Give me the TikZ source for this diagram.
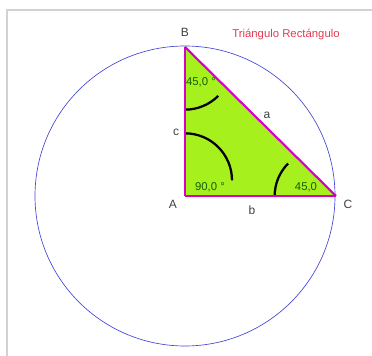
\documentclass[tikz,border=0pt]{standalone}
\usepackage{fontspec}
\setmainfont{Liberation Sans}
\definecolor{lima}{RGB}{166,240,30}
\definecolor{lado}{RGB}{214,0,200}
\definecolor{circ}{RGB}{70,70,215}
\definecolor{angtxt}{RGB}{20,95,0}
\definecolor{marco}{RGB}{210,210,210}
\definecolor{titulo}{RGB}{225,60,80}
\begin{document}
\begin{tikzpicture}[x=0.75pt,y=0.75pt,
  side/.style={lado, line width=1.6pt},
  angarc/.style={black, line width=1.7pt},
  vlabel/.style={font=\fontsize{9}{10}\selectfont, text=black!75},
  anglabel/.style={font=\fontsize{8.5}{10}\selectfont, text=angtxt}]
\useasboundingbox (0,0) rectangle (372,356);
\draw[marco, thick] (7,0) -- (7,346) -- (372,346);

\coordinate (A) at (185,160);\coordinate (B) at (185,309);\coordinate (C) at (336,160);

\draw[circ, line width=0.5pt] (A) circle (150);
\fill[lima] (A) -- (B) -- (C) -- cycle;

\draw[angarc] ([yshift=47]A) arc (90:0:47);
\draw[angarc] ([yshift=-47]B) arc (-90:-45:47);
\draw[angarc] ([xshift=-46]C) arc (180:135:46);

\draw[side] (A) -- (B);
\draw[side] (B) -- (C);
\draw[side] (C) -- (A);

\node[vlabel] (lA) at (173,152) {A};
\node[vlabel] (lB) at (185,324) {B};
\node[vlabel] (lC) at (348,152) {C};
\node[vlabel] (la) at (267,241) {a};
\node[vlabel] (lb) at (252,146) {b};
\node[vlabel] (lc) at (176,224) {c};

\node[anglabel] (gA) at (210,169) {90,0 °};
\node[anglabel] (gB) at (201,274) {45,0 °};
\node[anglabel] (gC) at (306,169) {45,0};

\node[font=\fontsize{8.5}{10}\selectfont, text=titulo] (tit) at (286,321) {Triángulo Rectángulo};
\end{tikzpicture}
\end{document}
